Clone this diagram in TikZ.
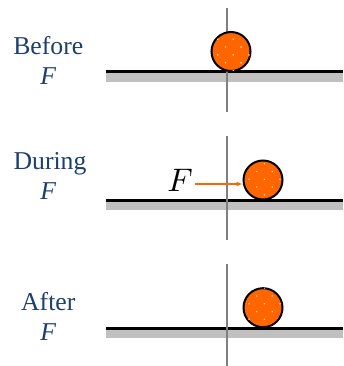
\documentclass[tikz,border=0pt]{standalone}
\usepackage{fontspec}
\setmainfont{Liberation Serif}
\usetikzlibrary{positioning}
\usetikzlibrary{arrows.meta, patterns.meta}

\definecolor{labelblue}{RGB}{27,63,110}
\definecolor{ballorange}{RGB}{255,102,0}
\definecolor{groundgrey}{RGB}{192,192,192}
\definecolor{axisgrey}{RGB}{128,128,128}

\tikzset{
    ball/.style={circle, draw=black, line width=2pt, fill=ballorange,
        minimum size=39pt, inner sep=0pt,
        postaction={pattern={Dots[distance=11pt, angle=45, radius=0.9pt]},
            pattern color=white!75!ballorange}},
    phase/.style={anchor=base, text=labelblue, inner sep=0pt,
        font=\fontsize{25.7}{30}\selectfont},
    force/.style={draw=ballorange, line width=1.6pt, -{Latex[length=6pt, width=5pt]}},
}

\begin{document}
\begin{tikzpicture}[x=1pt, y=-1pt]
    \useasboundingbox (0,0) rectangle (343,366);
    % ground and centre line of each panel
    \foreach \g in {71.8, 200, 328} {
        \fill[groundgrey] (106,\g+1.5) rectangle (343,\g+10);
        \draw[line width=3pt] (106,\g) -- (343,\g);
        \draw[axisgrey, line width=1.3pt] (227,\g-64) -- (227,\g+40);
    }
    % balls
    \node[ball] (ball1) at (231,51.5) {};
    \node[ball] (ball2) at (263,180) {};
    \node[ball] (ball3) at (263,307.7) {};
    % labels
    \node[phase] (before) at (48.3,54.3) {Before};
    \node[phase] (beforeF) at (48.3,85) {\textit{F}};
    \node[phase] (during) at (50,169) {During};
    \node[phase] (duringF) at (48.3,199) {\textit{F}};
    \node[phase] (after) at (48.3,310) {After};
    \node[phase] (afterF) at (48.3,340) {\textit{F}};
    % applied force
    \node[anchor=base, inner sep=0pt, scale=3.26] (Fbig) at (180,191.7) {$F$};
    \coordinate (fstart) at (195,184);
    \draw[force] (fstart) -- (fstart -| ball2.west);
\end{tikzpicture}
\end{document}
